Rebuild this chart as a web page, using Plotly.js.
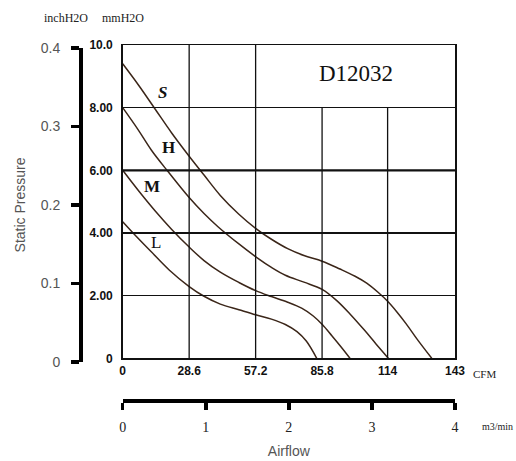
<!DOCTYPE html>
<html>
<head>
<meta charset="utf-8">
<script src="https://cdn.plot.ly/plotly-3.0.1.min.js"></script>
<style>html,body{margin:0;padding:0;background:#fff;}#chart{width:516px;height:461px;}</style>
</head>
<body>
<div id="chart"></div>
<script>
// ---- data ----
const cfmTicks = [0, 28.6, 57.2, 85.8, 114, 143];
const cfmTickText = ['0', '28.6', '57.2', '85.8', '114', '143'];
const mmTicks = [0, 2, 4, 6, 8, 10];
const mmTickText = ['0', '2.00', '4.00', '6.00', '8.00', '10.0'];
const inchTicks = [0, 0.1, 0.2, 0.3, 0.4];
const inchTickText = ['0', '0.1', '0.2', '0.3', '0.4'];
const m3Ticks = [0, 1, 2, 3, 4];
const m3TickText = ['0', '1', '2', '3', '4'];

const sFlow  = [0, 7, 14, 21, 28.6, 35, 42, 50, 57.2, 64, 71, 78, 85.8, 93.5, 100, 105, 110, 114, 118, 122, 127, 133];
const sPress = [9.4, 8.7, 7.95, 7.2, 6.45, 5.85, 5.2, 4.6, 4.15, 3.8, 3.5, 3.28, 3.1, 2.85, 2.62, 2.4, 2.1, 1.82, 1.48, 1.1, 0.58, 0];
const hFlow  = [0, 6.6, 12.3, 19.5, 28.6, 35, 41, 50, 58.2, 64, 70, 78, 85.8, 92, 98, 104, 109, 114.3];
const hPress = [8.0, 7.3, 6.65, 5.96, 5.13, 4.62, 4.2, 3.65, 3.19, 2.9, 2.65, 2.43, 2.2, 1.85, 1.4, 0.9, 0.46, 0];
const mFlow  = [0, 7, 14, 21, 28.6, 35, 42, 50, 57.2, 64, 71, 77, 82, 86, 90, 94, 97.8];
const mPress = [6.0, 5.33, 4.7, 4.12, 3.55, 3.12, 2.75, 2.42, 2.16, 1.97, 1.79, 1.6, 1.35, 1.07, 0.72, 0.36, 0];
const lFlow  = [0, 6, 12.3, 20, 28.6, 35, 42, 50, 57.2, 64, 70, 75, 79, 83.5];
const lPress = [4.36, 3.88, 3.40, 2.82, 2.29, 1.98, 1.73, 1.55, 1.39, 1.25, 1.08, 0.85, 0.55, 0];

const curveNames = ['S', 'H', 'M', 'L'];
const modelName = 'D12032';

// ---- styling / layout ----
const curveColor = '#3b2619';
const boldTick = {family: '"Liberation Sans", Arial, sans-serif', size: 12, weight: 'bold', color: '#111'};
const serif = '"Liberation Serif", "Times New Roman", serif';
const sans = '"Liberation Sans", Arial, sans-serif';

const W = 516, H = 461;
const mL = 20, mR = 20, mT = 45, mB = 61;
const pw = W - mL - mR, ph = H - mT - mB;
const xd = [(122.7 - mL) / pw, (455 - mL) / pw];
const yMainBottom = (H - mB - 358.3) / ph;
const px2paperX = px => (px - mL) / pw;
const py2paperY = py => (H - mB - py) / ph;

function curve(x, y) {
  return {x: x, y: y, type: 'scatter', mode: 'lines', xaxis: 'x', yaxis: 'y',
          line: {color: curveColor, width: 1.5, shape: 'spline', smoothing: 1},
          hoverinfo: 'skip', showlegend: false};
}
const traces = [
  {x: [null], y: [null], xaxis: 'x', yaxis: 'y2', type: 'scatter', mode: 'lines', showlegend: false, hoverinfo: 'skip'},
  {x: [null], y: [null], xaxis: 'x2', yaxis: 'y', type: 'scatter', mode: 'lines', showlegend: false, hoverinfo: 'skip'},
  curve(sFlow, sPress), curve(hFlow, hPress), curve(mFlow, mPress), curve(lFlow, lPress)
];

// vertical grid lines (the top-right cell holds the model label)
const shapes = [];
cfmTicks.slice(1, -1).forEach(v => {
  shapes.push({type: 'line', xref: 'x', yref: 'y', x0: v, x1: v, y0: 0, y1: v <= 57.2 ? 10 : 8,
               line: {color: '#111', width: 1.3}});
});
shapes.push({type: 'line', xref: 'x', yref: 'y', x0: 0, x1: 144, y0: 6, y1: 6, line: {color: '#111', width: 2.2}});

const labelPos = [[17.3, 8.47], [19.5, 6.74], [12.8, 5.48], [14.3, 3.71]];
const labelStyle = [
  {weight: 'bold', style: 'italic'}, {weight: 'bold', style: 'normal'},
  {weight: 'bold', style: 'normal'}, {weight: 'normal', style: 'normal'}
];
const annotations = curveNames.map((n, i) => ({
  text: n, xref: 'x', yref: 'y', x: labelPos[i][0], y: labelPos[i][1], showarrow: false,
  xanchor: 'center', yanchor: 'middle',
  font: {family: serif, size: 17, color: '#111', weight: labelStyle[i].weight, style: labelStyle[i].style}
}));
annotations.push({text: modelName, xref: 'x', yref: 'y', x: 100.4, y: 9.1, showarrow: false,
  xanchor: 'center', yanchor: 'middle', font: {family: serif, size: 23, color: '#111'}});
function paperNote(text, px, py, size) {
  return {text: text, xref: 'paper', yref: 'paper', x: px2paperX(px), y: py2paperY(py), showarrow: false,
          xanchor: 'center', yanchor: 'middle', font: {family: serif, size: size, color: '#222'}};
}
annotations.push(paperNote('inchH2O', 66, 18, 12));
annotations.push(paperNote('mmH2O', 123, 18, 12));
annotations.push(paperNote('CFM', 484, 374, 11));
annotations.push(paperNote('m3/min', 497, 427, 10));

const layout = {
  width: W, height: H,
  margin: {l: mL, r: mR, t: mT, b: mB},
  paper_bgcolor: '#fff', plot_bgcolor: 'rgba(0,0,0,0)',
  showlegend: false,
  xaxis: {domain: xd, range: [0, 143], tickvals: cfmTicks, ticktext: cfmTickText, ticks: '',
          showgrid: false, zeroline: false, showline: true, mirror: true, linecolor: '#111', linewidth: 1.5,
          tickfont: boldTick, ticklabelstandoff: 1, anchor: 'y', fixedrange: true},
  yaxis: {domain: [yMainBottom, 1], range: [0, 10], tickvals: mmTicks, ticktext: mmTickText, ticks: '',
          showgrid: true, gridcolor: '#111', gridwidth: 1.3, zeroline: false,
          showline: true, mirror: true, linecolor: '#111', linewidth: 1.5,
          tickfont: boldTick, ticklabelstandoff: 6, anchor: 'x', fixedrange: true},
  yaxis2: {domain: [py2paperY(362), py2paperY(48)], range: [0, 0.4], tickvals: inchTicks, ticktext: inchTickText,
           anchor: 'free', position: px2paperX(80), side: 'left', showline: true, linecolor: '#000', linewidth: 3.5,
           ticks: 'outside', ticklen: 8, tickwidth: 3.5, tickcolor: '#000', showgrid: false, zeroline: false,
           tickfont: {family: sans, size: 14, color: '#555'}, ticklabelstandoff: 8,
           title: {text: 'Static Pressure', font: {family: sans, size: 14, color: '#555'}, standoff: 10},
           fixedrange: true},
  xaxis2: {domain: xd, range: [0, 4], tickvals: m3Ticks, ticktext: m3TickText, anchor: 'free', position: 0, side: 'bottom',
           showline: true, linecolor: '#000', linewidth: 3.5, ticks: 'outside', ticklen: 7, tickwidth: 3.5, tickcolor: '#000',
           showgrid: false, zeroline: false, tickfont: {family: serif, size: 14, color: '#222'}, ticklabelstandoff: 6,
           title: {text: 'Airflow', font: {family: sans, size: 14, color: '#555'}, standoff: 12},
           fixedrange: true},
  shapes: shapes,
  annotations: annotations
};

Plotly.newPlot('chart', traces, layout, {displayModeBar: false, staticPlot: true});
</script>
</body>
</html>
